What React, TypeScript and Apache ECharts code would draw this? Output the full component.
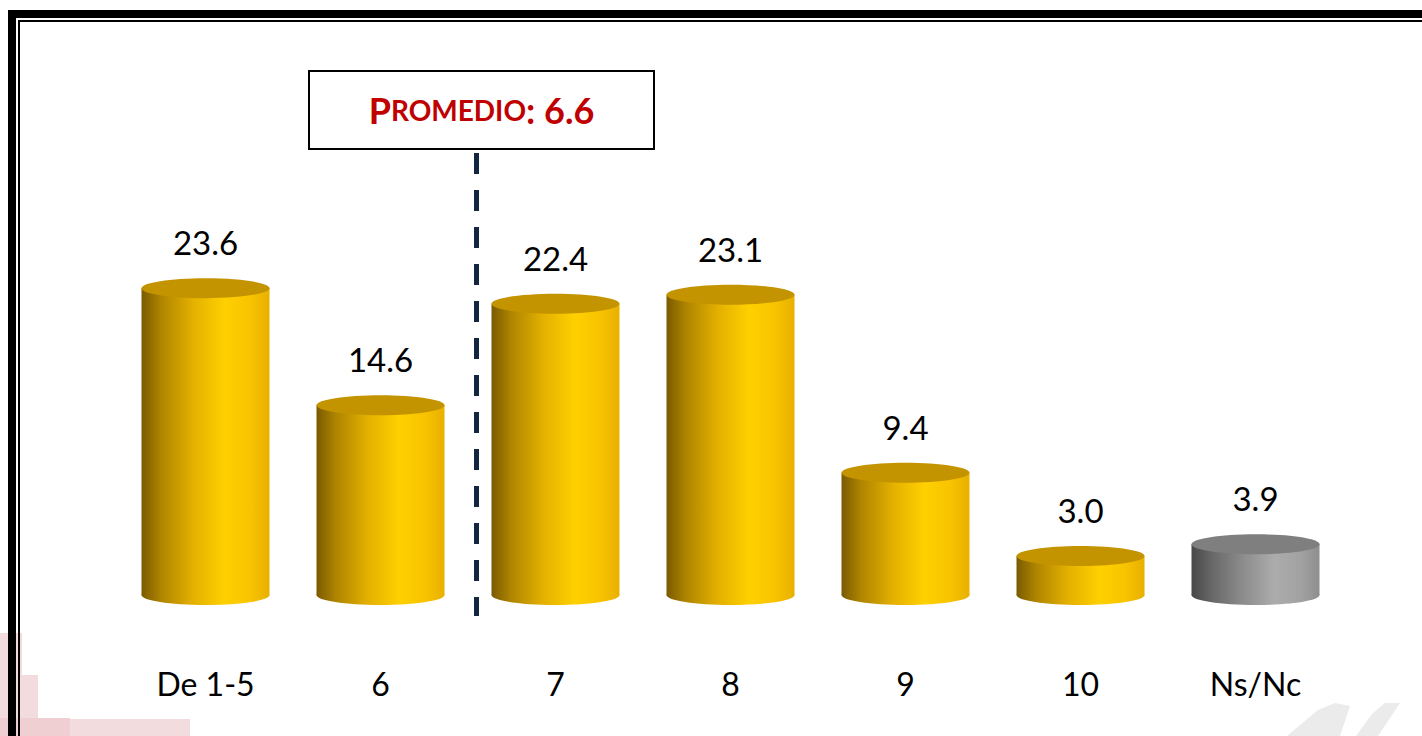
import React, { useEffect, useRef } from "react";
import * as echarts from "echarts";

const categories = ["De 1-5", "6", "7", "8", "9", "10", "Ns/Nc"];
const values = [23.6, 14.6, 22.4, 23.1, 9.4, 3.0, 3.9];
const grayIndex = [6];
const averageLabel = "6.6";

const goldStops = [
  { offset: 0, color: "#7A5A00" },
  { offset: 0.15, color: "#AE8400" },
  { offset: 0.4, color: "#E3B000" },
  { offset: 0.65, color: "#FFD000" },
  { offset: 0.85, color: "#F8C300" },
  { offset: 1, color: "#E8B000" },
];
const grayStops = [
  { offset: 0, color: "#484848" },
  { offset: 0.15, color: "#666666" },
  { offset: 0.4, color: "#8C8C8C" },
  { offset: 0.65, color: "#ACACAC" },
  { offset: 0.85, color: "#A2A2A2" },
  { offset: 1, color: "#8E8E8E" },
];

export default function App() {
  const ref = useRef<HTMLDivElement>(null);
  useEffect(() => {
    if (!ref.current) return;
    const chart = echarts.init(ref.current, undefined, { renderer: "svg" });
    const data = values.map((v, i) => [i, v]);
    const option: any = {
      animation: false,
      backgroundColor: "#FFFFFF",
      grid: { left: 118, right: 79, top: 205, bottom: 141 },
      xAxis: {
        type: "category",
        data: categories,
        axisLine: { show: false },
        axisTick: { show: false },
        splitLine: { show: false },
        axisLabel: {
          margin: 72,
          fontFamily: "Lato",
          fontSize: 32,
          color: "#000000",
        },
      },
      yAxis: {
        type: "value",
        min: 0,
        max: 30,
        show: false,
        splitLine: { show: false },
      },
      series: [
        {
          type: "custom",
          data,
          clip: false,
          renderItem: (params: any, api: any) => {
            const idx = api.value(0);
            const v = api.value(1);
            const top = api.coord([idx, v]);
            const base = api.coord([idx, 0]);
            const w = 128;
            const ry = 10;
            const isGray = grayIndex.includes(idx);
            const stops = isGray ? grayStops : goldStops;
            const grad = () => new echarts.graphic.LinearGradient(0, 0, 1, 0, stops);
            const topColor = isGray ? "#7F7F7F" : "#C49400";
            const label = v.toFixed(1);
            return {
              type: "group",
              children: [
                {
                  type: "ellipse",
                  shape: { cx: base[0], cy: base[1], rx: w / 2, ry },
                  style: { fill: grad() },
                },
                {
                  type: "rect",
                  shape: { x: base[0] - w / 2, y: top[1], width: w, height: base[1] - top[1] },
                  style: { fill: grad() },
                },
                {
                  type: "ellipse",
                  shape: { cx: top[0], cy: top[1], rx: w / 2, ry },
                  style: { fill: topColor },
                },
                {
                  type: "text",
                  x: top[0],
                  y: top[1] - 46,
                  style: {
                    text: label,
                    fill: "#000000",
                    fontFamily: "Lato",
                    fontSize: 33,
                    align: "center",
                    verticalAlign: "middle",
                    textAlign: "center",
                    textVerticalAlign: "middle",
                  },
                },
              ],
            };
          },
        },
      ],
      graphic: [
        // faint watermarks
        { type: "rect", shape: { x: 0, y: 633, width: 22, height: 103 }, style: { fill: "#F3DCDD" } },
        { type: "rect", shape: { x: 0, y: 675, width: 38, height: 61 }, style: { fill: "#F3DCDD" } },
        { type: "rect", shape: { x: 0, y: 718, width: 70, height: 18 }, style: { fill: "#EFCFD1" } },
        { type: "rect", shape: { x: 70, y: 719, width: 120, height: 17 }, style: { fill: "#F3DCDD" } },
        {
          type: "polygon",
          shape: { points: [[1287, 736], [1318, 710], [1335, 703], [1350, 706], [1340, 736]] },
          style: { fill: "#EBEBEB" },
        },
        {
          type: "polygon",
          shape: { points: [[1356, 736], [1372, 714], [1385, 703], [1400, 703], [1378, 736]] },
          style: { fill: "#EBEBEB" },
        },
        // frame
        {
          type: "rect",
          shape: { x: 12, y: 14, width: 1440, height: 800 },
          style: { fill: "none", stroke: "#000000", lineWidth: 8 },
        },
        {
          type: "rect",
          shape: { x: 19, y: 21, width: 1440, height: 800 },
          style: { fill: "none", stroke: "#000000", lineWidth: 2 },
        },
        // average dashed line
        {
          type: "line",
          shape: { x1: 476.5, y1: 153, x2: 476.5, y2: 616 },
          style: { stroke: "#13263F", lineWidth: 5, lineDash: [21, 16] },
        },
        // average box
        {
          type: "rect",
          shape: { x: 309, y: 71, width: 345, height: 78 },
          style: { fill: "#FFFFFF", stroke: "#000000", lineWidth: 2 },
        },
        {
          type: "text",
          x: 481.5,
          y: 110,
          style: {
            text: "{a|P}{b|ROMEDIO}{a|: " + averageLabel + "}",
            align: "center",
            verticalAlign: "middle",
            textAlign: "center",
            textVerticalAlign: "middle",
            rich: {
              a: { fontFamily: "Lato", fontWeight: "bold", fontSize: 36, fill: "#C00000", color: "#C00000" },
              b: { fontFamily: "Lato", fontWeight: "bold", fontSize: 28, fill: "#C00000", color: "#C00000" },
            },
          },
        },
      ],
    };
    chart.setOption(option);
    return () => chart.dispose();
  }, []);
  return (
    <div
      ref={ref}
      style={{ position: "fixed", left: 0, top: 0, width: 1422, height: 736 }}
    />
  );
}
